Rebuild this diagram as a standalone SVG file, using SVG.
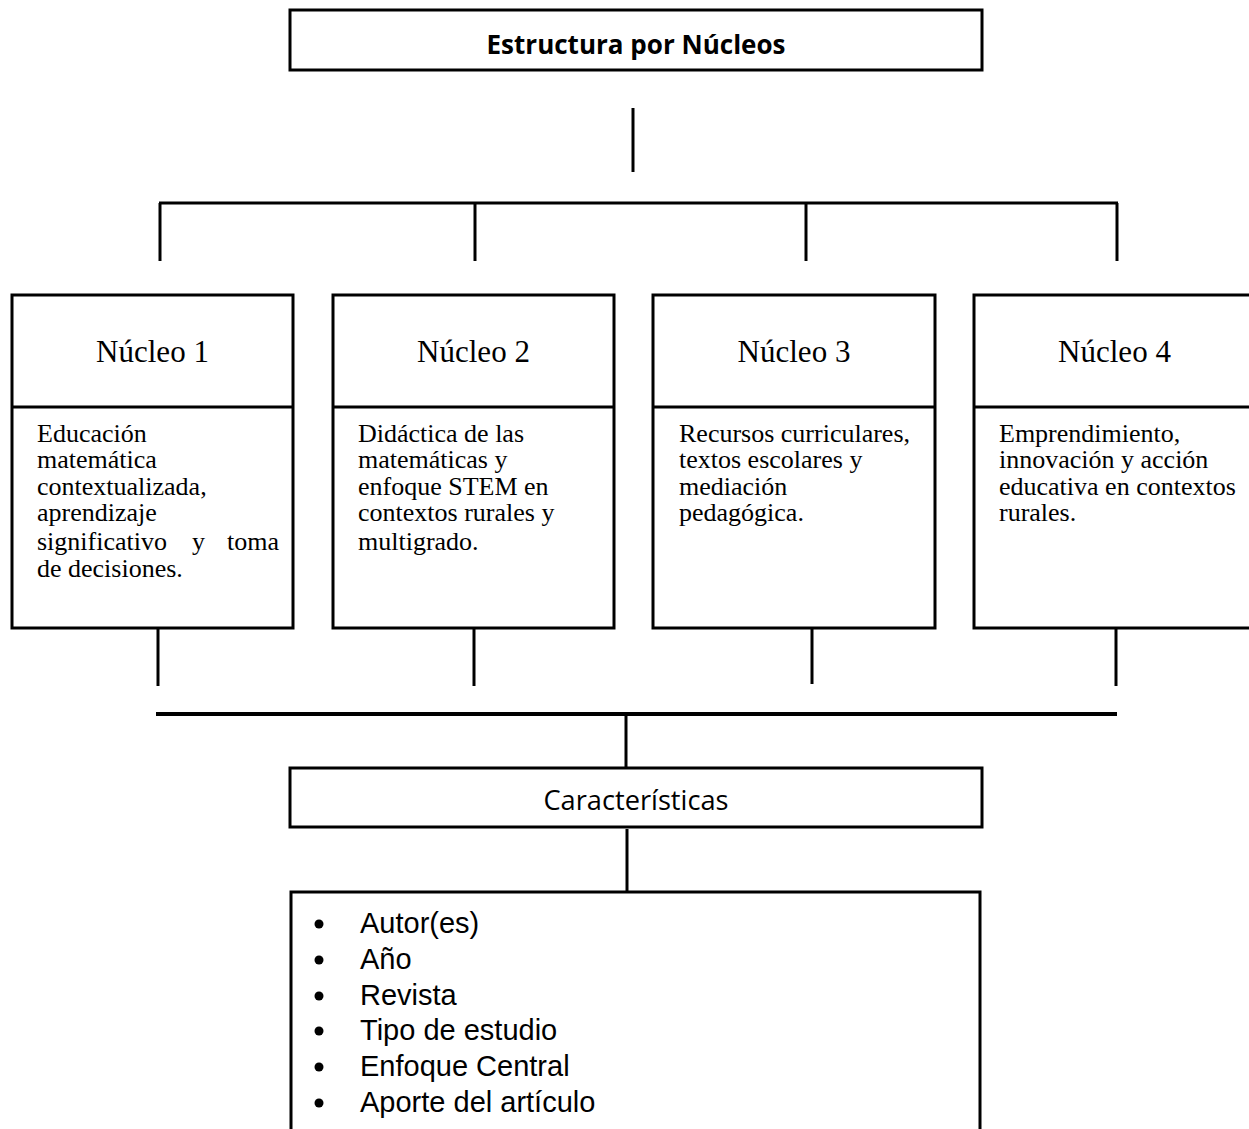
<svg xmlns="http://www.w3.org/2000/svg" width="1249" height="1129" viewBox="0 0 1249 1129">
<style>
.box{fill:#fff;stroke:#000;stroke-width:3}
.ln{stroke:#000;stroke-width:3;fill:none}
.title{font-family:"Open Sans","Liberation Sans",sans-serif;font-weight:bold;font-size:27px;fill:#000}
.car{font-family:"Open Sans","Liberation Sans",sans-serif;font-size:28px;fill:#000}
.nh{font-family:"Liberation Serif","Times New Roman",serif;font-size:31px;fill:#000}
.nb{font-family:"Liberation Serif","Times New Roman",serif;font-size:26px;fill:#000}
.li{font-family:"Liberation Sans",Arial,sans-serif;font-size:29px;fill:#000}
</style>
<rect width="1249" height="1129" fill="#fff"/>
<g id="connectors">
<line class="ln" x1="633" y1="108" x2="633" y2="172"/>
<line class="ln" x1="159" y1="203" x2="1118" y2="203"/>
<line class="ln" x1="160" y1="203" x2="160" y2="261"/>
<line class="ln" x1="475" y1="203" x2="475" y2="261"/>
<line class="ln" x1="806" y1="203" x2="806" y2="261"/>
<line class="ln" x1="1117" y1="203" x2="1117" y2="261"/>
<line class="ln" x1="158" y1="629" x2="158" y2="686"/>
<line class="ln" x1="474" y1="629" x2="474" y2="686"/>
<line class="ln" x1="812" y1="626" x2="812" y2="684"/>
<line class="ln" x1="1116" y1="629" x2="1116" y2="686"/>
<line class="ln" x1="156" y1="714" x2="1117" y2="714" style="stroke-width:4"/>
<line class="ln" x1="626" y1="714" x2="626" y2="768"/>
<line class="ln" x1="627" y1="829" x2="627" y2="892"/>
</g>
<g id="estructura">
<rect class="box" x="290" y="10" width="692" height="60"/>
<text class="title" x="636" y="54" text-anchor="middle" textLength="299" lengthAdjust="spacingAndGlyphs">Estructura por Núcleos</text>
</g>
<g id="nucleo1">
<rect class="box" x="12" y="295" width="281" height="333"/>
<line class="ln" x1="12" y1="407" x2="293" y2="407"/>
<text class="nh" x="152.5" y="362" text-anchor="middle">Núcleo 1</text>
<text class="nb" x="37" y="442">Educación</text>
<text class="nb" x="37" y="468">matemática</text>
<text class="nb" x="37" y="495">contextualizada,</text>
<text class="nb" x="37" y="521">aprendizaje</text>
<text class="nb" y="550"><tspan x="37">significativo</tspan><tspan x="192">y</tspan><tspan x="227">toma</tspan></text>
<text class="nb" x="37" y="577">de decisiones.</text>
</g>
<g id="nucleo2">
<rect class="box" x="333" y="295" width="281" height="333"/>
<line class="ln" x1="333" y1="407" x2="614" y2="407"/>
<text class="nh" x="473.5" y="362" text-anchor="middle">Núcleo 2</text>
<text class="nb" x="358" y="442">Didáctica de las</text>
<text class="nb" x="358" y="468">matemáticas y</text>
<text class="nb" x="358" y="495">enfoque STEM en</text>
<text class="nb" x="358" y="521">contextos rurales y</text>
<text class="nb" x="358" y="550">multigrado.</text>
</g>
<g id="nucleo3">
<rect class="box" x="653" y="295" width="282" height="333"/>
<line class="ln" x1="653" y1="407" x2="935" y2="407"/>
<text class="nh" x="794" y="362" text-anchor="middle">Núcleo 3</text>
<text class="nb" x="679" y="442">Recursos curriculares,</text>
<text class="nb" x="679" y="468">textos escolares y</text>
<text class="nb" x="679" y="495">mediación</text>
<text class="nb" x="679" y="521">pedagógica.</text>
</g>
<g id="nucleo4">
<rect class="box" x="974" y="295" width="281" height="333"/>
<line class="ln" x1="974" y1="407" x2="1255" y2="407"/>
<text class="nh" x="1114.5" y="362" text-anchor="middle">Núcleo 4</text>
<text class="nb" x="999" y="442">Emprendimiento,</text>
<text class="nb" x="999" y="468">innovación y acción</text>
<text class="nb" x="999" y="495">educativa en contextos</text>
<text class="nb" x="999" y="521">rurales.</text>
</g>
<g id="caracteristicas">
<rect class="box" x="290" y="768" width="692" height="59"/>
<text class="car" x="636" y="810" text-anchor="middle" textLength="185" lengthAdjust="spacingAndGlyphs">Características</text>
</g>
<g id="lista">
<rect class="box" x="291" y="892" width="689" height="260"/>
<g fill="#000">
<circle cx="319" cy="924" r="4.5"/>
<circle cx="319" cy="960" r="4.5"/>
<circle cx="319" cy="996" r="4.5"/>
<circle cx="319" cy="1031" r="4.5"/>
<circle cx="319" cy="1067" r="4.5"/>
<circle cx="319" cy="1103" r="4.5"/>
</g>
<text class="li" x="360" y="933">Autor(es)</text>
<text class="li" x="360" y="969">Año</text>
<text class="li" x="360" y="1005">Revista</text>
<text class="li" x="360" y="1040">Tipo de estudio</text>
<text class="li" x="360" y="1076">Enfoque Central</text>
<text class="li" x="360" y="1112">Aporte del artículo</text>
</g>
</svg>
